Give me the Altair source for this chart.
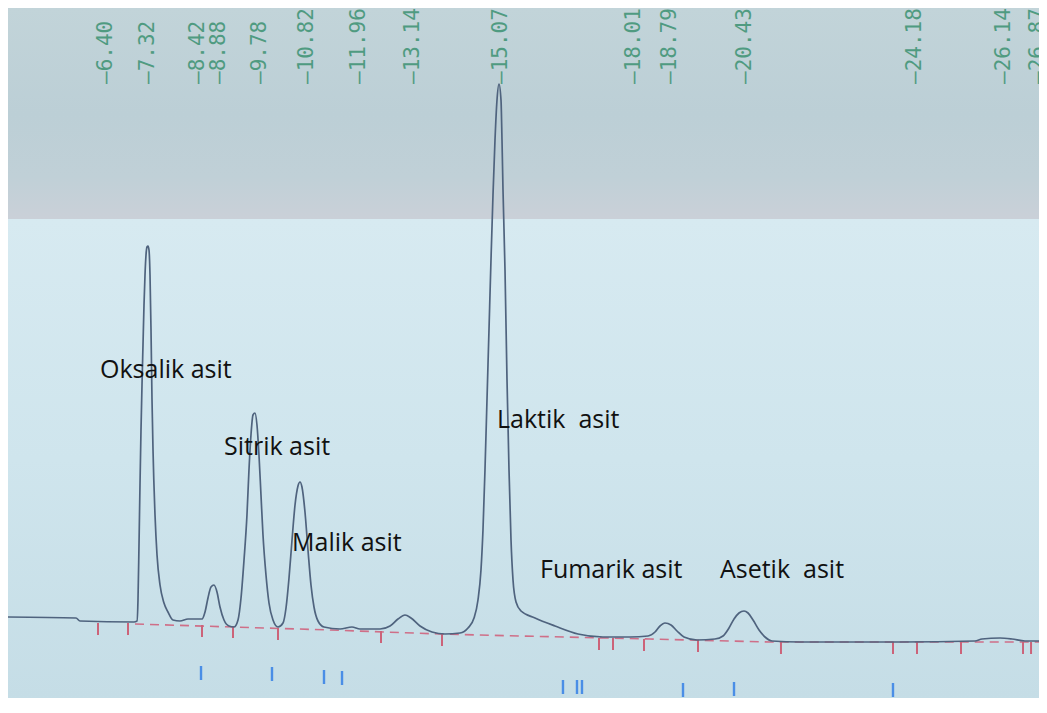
import altair as alt
import pandas as pd

# ---- data (retention time in min, signal in relative mV) ----
trace_time = [4.243, 5.737, 5.825, 7.012, 7.078, 7.100, 7.122, 7.144, 7.166, 7.188,
              7.210, 7.232, 7.254, 7.276, 7.298, 7.320, 7.342, 7.364, 7.386, 7.408,
              7.430, 7.474, 7.518, 7.584, 7.671, 7.759, 7.869, 8.023, 8.199, 8.353,
              8.507, 8.573, 8.638, 8.704, 8.770, 8.836, 8.902, 8.990, 9.100, 9.210,
              9.298, 9.364, 9.430, 9.495, 9.539, 9.583, 9.627, 9.671, 9.715, 9.759,
              9.803, 9.847, 9.913, 9.979, 10.067, 10.177, 10.287, 10.353, 10.419, 10.485,
              10.551, 10.616, 10.660, 10.704, 10.770, 10.836, 10.902, 10.968, 11.056, 11.188,
              11.540, 11.803, 11.979, 12.419, 12.639, 12.814, 12.968, 13.100, 13.298, 13.561,
              13.847, 14.177, 14.353, 14.485, 14.572, 14.638, 14.682, 14.726, 14.770, 14.814,
              14.858, 14.902, 14.946, 14.990, 15.034, 15.078, 15.100, 15.122, 15.166, 15.210,
              15.254, 15.298, 15.342, 15.408, 15.518, 15.825, 16.265, 16.770, 17.320, 17.913,
              18.309, 18.463, 18.573, 18.682, 18.814, 18.946, 19.100, 19.386, 19.781, 19.957,
              20.089, 20.199, 20.309, 20.419, 20.507, 20.617, 20.749, 20.880, 21.034, 21.649,
              23.847, 25.495, 25.649, 26.045, 26.309, 26.594, 26.902]
trace_signal = [3.3, 3.2, 2.9, 2.8, 2.9, 5.0, 10.5, 16.5, 22.0, 26.5,
                30.5, 34.5, 37.5, 39.5, 40.3, 40.4, 40.0, 37.5, 32.0, 25.0,
                20.0, 13.5, 9.5, 6.5, 4.7, 3.8, 3.0, 2.9, 3.1, 3.1,
                3.1, 3.8, 5.2, 6.3, 6.5, 5.8, 4.3, 3.0, 2.4, 2.3,
                3.0, 5.2, 9.0, 13.5, 18.0, 21.5, 23.5, 23.7, 22.5, 19.5,
                15.5, 11.5, 7.5, 4.7, 3.0, 2.3, 2.7, 4.2, 7.2, 11.0,
                14.5, 16.4, 16.8, 16.3, 13.8, 10.0, 6.5, 4.3, 2.9, 2.3,
                2.1, 2.3, 2.1, 2.1, 2.4, 3.1, 3.5, 3.2, 2.4, 1.8,
                1.6, 1.7, 2.2, 3.2, 5.0, 8.0, 12.0, 18.0, 25.0, 32.0,
                39.0, 45.5, 51.0, 55.0, 56.6, 55.0, 51.0, 46.0, 38.0, 27.0,
                18.0, 11.0, 7.0, 4.8, 3.9, 3.2, 2.4, 1.6, 1.3, 1.3,
                1.4, 1.8, 2.4, 2.7, 2.5, 1.9, 1.3, 1.0, 1.1, 1.4,
                2.2, 3.1, 3.7, 3.9, 3.7, 3.0, 2.0, 1.3, 0.9, 0.8,
                0.8, 0.9, 1.1, 1.2, 1.1, 0.9, 0.9]

baseline_time = [7.034, 11.320, 13.737, 15.496, 18.353, 20.990, 26.902]
baseline_signal = [2.6, 2.0, 1.6, 1.4, 1.1, 0.8, 0.8]

rt_labels = ["6.40", "7.32", "8.42", "8.88", "9.78", "10.82", "11.96", "13.14",
             "15.07", "18.01", "18.79", "20.43", "24.18", "26.14", "26.87"]

peak_names = ["Oksalik asit", "Sitrik asit", "Malik asit",
              "Laktik\u00a0 asit", "Fumarik asit", "Asetik\u00a0 asit"]
peak_label_time = [6.265, 8.99, 10.485, 14.99, 15.935, 19.89]
peak_label_signal = [28.0, 20.3, 10.7, 23.0, 8.0, 8.0]

event_time = [6.221, 6.880, 8.507, 9.188, 10.177, 12.441, 13.781, 17.232, 17.540,
              18.221, 19.408, 21.231, 23.693, 24.221, 25.188, 26.551, 26.727]
event_signal = [2.7, 2.7, 2.5, 2.4, 2.2, 1.9, 1.6, 1.2, 1.2,
                1.1, 1.0, 0.8, 0.8, 0.8, 0.8, 0.8, 0.8]

mark_time = [8.485, 10.045, 11.188, 11.584, 16.440, 16.748, 16.858, 19.078, 20.199, 23.693]
mark_signal = [-1.6, -1.7, -2.0, -2.1, -3.0, -3.0, -3.0, -3.3, -3.2, -3.3]

# ---- tables ----
trace = pd.DataFrame({"t": trace_time, "s": trace_signal})
base = pd.DataFrame({"t": baseline_time, "s": baseline_signal})
rts = pd.DataFrame({"t": [float(v) for v in rt_labels],
                    "lab": ["\u2014" + v for v in rt_labels]})
names = pd.DataFrame({"t": peak_label_time, "s": peak_label_signal, "name": peak_names})
events = pd.DataFrame({"t": event_time, "s": event_signal})
marks = pd.DataFrame({"t": mark_time, "s": mark_signal})
one = pd.DataFrame({"k": [0]})

W, H = 1031, 690
xs = alt.Scale(domain=[4.243, 26.902], nice=False, zero=False)
ys = alt.Scale(domain=[-4.8, 64.2], nice=False, zero=False)

X = lambda: alt.X("t:Q", scale=xs, axis=None)
Y = lambda f="s": alt.Y(f"{f}:Q", scale=ys, axis=None)

top_band = alt.Chart(one).mark_rect(
    fill=alt.LinearGradient(gradient="linear", x1=0, x2=0, y1=0, y2=1, stops=[
        alt.GradientStop(color="#c2d4d9", offset=0),
        alt.GradientStop(color="#bccfd6", offset=0.5),
        alt.GradientStop(color="#c0d0d7", offset=0.8),
        alt.GradientStop(color="#cad0d8", offset=1)])
).encode(x=alt.value(0), x2=alt.value(W), y=alt.value(0), y2=alt.value(211))

low_band = alt.Chart(one).mark_rect(
    fill=alt.LinearGradient(gradient="linear", x1=0, x2=0, y1=0, y2=1, stops=[
        alt.GradientStop(color="#d7eaf1", offset=0),
        alt.GradientStop(color="#cfe5ed", offset=0.5),
        alt.GradientStop(color="#c5dde6", offset=1)])
).encode(x=alt.value(0), x2=alt.value(W), y=alt.value(211), y2=alt.value(H))

baseline = alt.Chart(base).mark_line(
    color="#cf6f88", strokeWidth=1.6, strokeDash=[9, 6]
).encode(x=X(), y=Y())

red_ticks = alt.Chart(events).transform_calculate(s2="datum.s - 1.2").mark_rule(
    color="#cc6379", strokeWidth=2
).encode(x=X(), y=Y(), y2="s2:Q")

blue_ticks = alt.Chart(marks).transform_calculate(s2="datum.s - 1.4").mark_rule(
    color="#4a8ee6", strokeWidth=2.4
).encode(x=X(), y=Y(), y2="s2:Q")

line = alt.Chart(trace).mark_line(
    color="#4f637e", strokeWidth=1.7, interpolate="monotone"
).encode(x=X(), y=Y())

rt_text = alt.Chart(rts).mark_text(
    angle=270, align="left", baseline="middle", font="DejaVu Sans Mono",
    fontSize=21, color="#3c9272", opacity=0.85, clip=True
).encode(x=X(), y=alt.value(76), text="lab:N")

name_text = alt.Chart(names).mark_text(
    align="left", baseline="middle", font="Open Sans", fontSize=25, color="#111111"
).encode(x=X(), y=Y(), text="name:N")

chart = alt.layer(
    top_band, low_band, baseline, red_ticks, blue_ticks, line, rt_text, name_text
).properties(
    width=W, height=H, padding=0, autosize=alt.AutoSizeParams(type="none")
).configure_view(stroke=None).configure(background="white")

chart.save("out.html", embed_options={"renderer": "svg", "actions": False})
